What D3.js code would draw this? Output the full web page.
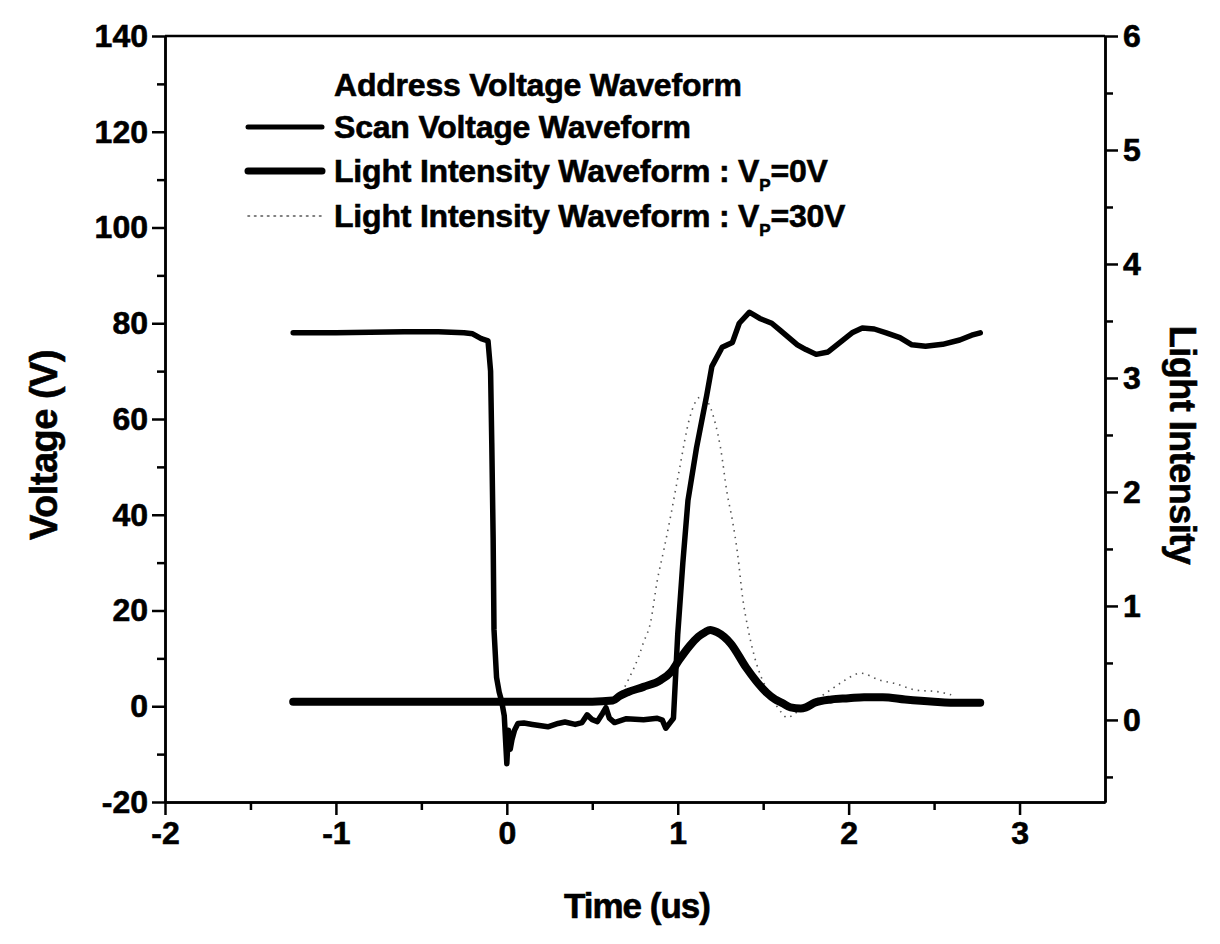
<!DOCTYPE html>
<html><head><meta charset="utf-8">
<script src="https://cdn.jsdelivr.net/npm/d3@7"></script>
<style>body{margin:0;background:#fff}text{font-family:"Liberation Sans",Arial,sans-serif;font-weight:bold;fill:#000;stroke:#000;stroke-width:0.6px}</style>
</head><body>
<svg id="c" width="1220" height="944"></svg>
<script>
// ---- tick labels ----
const timeTicks = [-2, -1, 0, 1, 2, 3];
const timeMinor = [-1.5, -0.5, 0.5, 1.5, 2.5];
const voltTicks = [-20, 0, 20, 40, 60, 80, 100, 120, 140];
const voltMinor = [-10, 10, 30, 50, 70, 90, 110, 130];
const lightTicks = [0, 1, 2, 3, 4, 5, 6];
const lightMinor = [-0.5, 0.5, 1.5, 2.5, 3.5, 4.5, 5.5];

// ---- Scan voltage waveform (left axis, V) ----
const scanT = [-1.25, -1.0, -0.8, -0.6, -0.4, -0.25, -0.2, -0.15, -0.11, -0.095, -0.088, -0.08, -0.075, -0.06, -0.045, -0.03, -0.015, 0.0, 0.01, 0.02, 0.03, 0.045, 0.065, 0.1, 0.15, 0.24, 0.3, 0.34, 0.4, 0.44, 0.47, 0.5, 0.53, 0.56, 0.58, 0.6, 0.63, 0.7, 0.8, 0.88, 0.91, 0.93, 0.96, 0.975, 0.99, 1.0, 1.03, 1.06, 1.11, 1.17, 1.2, 1.26, 1.32, 1.36, 1.42, 1.48, 1.55, 1.6, 1.65, 1.7, 1.75, 1.81, 1.88, 1.95, 2.02, 2.08, 2.15, 2.22, 2.3, 2.37, 2.45, 2.55, 2.65, 2.72, 2.77];
const scanV = [78, 78, 78.1, 78.2, 78.2, 78, 77.8, 76.8, 76.3, 70, 55, 35, 16, 6, 3, 1, -2, -12, -5, -9, -7, -5, -3.6, -3.5, -3.8, -4.3, -3.6, -3.3, -3.8, -3.4, -1.8, -2.8, -3.2, -1.5, -0.3, -2.5, -3.4, -2.6, -2.8, -2.5, -2.9, -4.6, -3.2, -2.5, 8, 15, 30, 43, 54, 65, 71, 75, 76, 80, 82.3, 81, 80, 78.5, 77, 75.5, 74.5, 73.5, 74, 76, 78, 79, 78.8, 78, 77, 75.5, 75.2, 75.6, 76.5, 77.5, 78];

// ---- Light intensity waveform, Vp = 0V (right axis) ----
const light0T = [-1.25, -0.5, 0.0, 0.5, 0.62, 0.66, 0.71, 0.8, 0.9, 0.96, 1.01, 1.07, 1.12, 1.16, 1.19, 1.23, 1.31, 1.4, 1.46, 1.52, 1.57, 1.61, 1.66, 1.72, 1.75, 1.8, 1.9, 2.0, 2.09, 2.2, 2.33, 2.5, 2.65, 2.77];
const light0I = [0.16, 0.16, 0.16, 0.16, 0.17, 0.21, 0.245, 0.29, 0.35, 0.42, 0.53, 0.65, 0.73, 0.77, 0.79, 0.77, 0.67, 0.46, 0.34, 0.24, 0.18, 0.15, 0.11, 0.1, 0.11, 0.15, 0.18, 0.19, 0.2, 0.2, 0.18, 0.16, 0.15, 0.15];

// ---- Light intensity waveform, Vp = 30V (right axis) ----
const light30T = [-1.25, -0.5, 0.0, 0.5, 0.6, 0.66, 0.72, 0.77, 0.8, 0.84, 0.88, 0.92, 0.96, 1.01, 1.07, 1.13, 1.17, 1.22, 1.25, 1.29, 1.32, 1.35, 1.38, 1.41, 1.45, 1.49, 1.54, 1.58, 1.61, 1.64, 1.68, 1.74, 1.8, 1.9, 1.98, 2.07, 2.18, 2.27, 2.4, 2.51, 2.6];
const light30I = [0.16, 0.16, 0.16, 0.16, 0.17, 0.22, 0.38, 0.55, 0.68, 0.85, 1.22, 1.5, 1.8, 2.2, 2.65, 2.83, 2.8, 2.6, 2.39, 1.98, 1.75, 1.46, 1.07, 0.81, 0.55, 0.37, 0.23, 0.12, 0.06, 0.02, 0.05, 0.12, 0.17, 0.27, 0.35, 0.41, 0.35, 0.32, 0.26, 0.25, 0.22];

const legendLabels = ["Address Voltage Waveform", "Scan Voltage Waveform", "Light Intensity Waveform : V", "Light Intensity Waveform : V"];
const legendSubs = [null, null, ["P", "=0V"], ["P", "=30V"]];

// ---- drawing ----
const svg = d3.select("#c");
const x = d3.scaleLinear([-2, 3.5], [165, 1105]);
const yL = d3.scaleLinear([-20, 140], [802, 36]);
const yR = d3.scaleLinear([-0.72, 6], [802, 36]);

function styleAxis(g) {
  g.select(".domain").attr("stroke", "#000").attr("stroke-width", 2.5);
  g.selectAll(".tick line").attr("stroke", "#000").attr("stroke-width", 2.5);
  g.selectAll(".tick text").style("font-size", "32px").style("font-family", '"Liberation Sans",Arial,sans-serif').style("font-weight", "bold").attr("fill", "#000");
}

// minor ticks
svg.append("g").attr("transform", "translate(0,802)")
  .call(d3.axisBottom(x).tickValues(timeMinor).tickSize(8).tickFormat("").tickSizeOuter(0)).call(styleAxis);
svg.append("g").attr("transform", "translate(165,0)")
  .call(d3.axisLeft(yL).tickValues(voltMinor).tickSize(8).tickFormat("").tickSizeOuter(0)).call(styleAxis);
svg.append("g").attr("transform", "translate(1105,0)")
  .call(d3.axisRight(yR).tickValues(lightMinor).tickSize(8).tickFormat("").tickSizeOuter(0)).call(styleAxis);

// major ticks
svg.append("g").attr("transform", "translate(0,802)")
  .call(d3.axisBottom(x).tickValues(timeTicks).tickSize(13).tickPadding(6).tickFormat(d3.format("d")).tickSizeOuter(0)).call(styleAxis);
svg.append("g").attr("transform", "translate(165,0)")
  .call(d3.axisLeft(yL).tickValues(voltTicks).tickSize(13).tickPadding(4).tickFormat(d3.format("d")).tickSizeOuter(0)).call(styleAxis);
svg.append("g").attr("transform", "translate(1105,0)")
  .call(d3.axisRight(yR).tickValues(lightTicks).tickSize(13).tickPadding(5).tickFormat(d3.format("d")).tickSizeOuter(0)).call(styleAxis);
// top frame
svg.append("line").attr("x1", x(-2)).attr("x2", x(3.5)).attr("y1", yL(140)).attr("y2", yL(140))
  .attr("stroke", "#000").attr("stroke-width", 2.5);

svg.selectAll(".tick text").text(function(){ return this.textContent.replace("\u2212", "-"); });

// series
const scanData = scanT.map((t, i) => [t, scanV[i]]);
const l0Data = light0T.map((t, i) => [t, light0I[i]]);
const l30Data = light30T.map((t, i) => [t, light30I[i]]);

svg.append("path").datum(l30Data)
  .attr("d", d3.line().x(d => x(d[0])).y(d => yR(d[1])).curve(d3.curveMonotoneX))
  .attr("fill", "none").attr("stroke", "#555").attr("stroke-width", 1.6).attr("stroke-dasharray", "1.5,5");

svg.append("path").datum(l0Data)
  .attr("d", d3.line().x(d => x(d[0])).y(d => yR(d[1])).curve(d3.curveMonotoneX))
  .attr("fill", "none").attr("stroke", "#000").attr("stroke-width", 8).attr("stroke-linejoin", "round").attr("stroke-linecap", "round");

svg.append("path").datum(scanData)
  .attr("d", d3.line().x(d => x(d[0])).y(d => yL(d[1])))
  .attr("fill", "none").attr("stroke", "#000").attr("stroke-width", 5.5).attr("stroke-linejoin", "round").attr("stroke-linecap", "round");

// legend
const legY = [85, 127, 171, 216];
const legStroke = [null, {w: 5, dash: null, c: "#000"}, {w: 7, dash: null, c: "#000"}, {w: 1.6, dash: "1.5,5", c: "#555"}];
legendLabels.forEach((lab, i) => {
  const s = legStroke[i];
  if (s) {
    svg.append("line").attr("x1", 248).attr("x2", 322).attr("y1", legY[i]).attr("y2", legY[i])
      .attr("stroke", s.c).attr("stroke-width", s.w).attr("stroke-dasharray", s.dash).attr("stroke-linecap", "round");
  }
  const t = svg.append("text").attr("x", 334).attr("y", legY[i] + 11).style("font-size", "32px").attr("letter-spacing", "-0.2");
  t.append("tspan").text(lab);
  if (legendSubs[i]) {
    t.append("tspan").attr("dy", 9).style("font-size", "17px").text(legendSubs[i][0]);
    t.append("tspan").attr("dy", -9).text(legendSubs[i][1]);
  }
});

// axis titles
svg.append("text").attr("transform", "translate(57,445) rotate(-90)").attr("text-anchor", "middle")
  .style("font-size", "38px").attr("letter-spacing", "-0.5").text("Voltage (V)");
svg.append("text").attr("transform", "translate(1170,445) rotate(90)").attr("text-anchor", "middle")
  .style("font-size", "36px").attr("letter-spacing", "-0.5").text("Light Intensity");
svg.append("text").attr("x", 637).attr("y", 918).attr("text-anchor", "middle")
  .style("font-size", "35px").attr("letter-spacing", "-1").text("Time (us)");
</script>
</body></html>
